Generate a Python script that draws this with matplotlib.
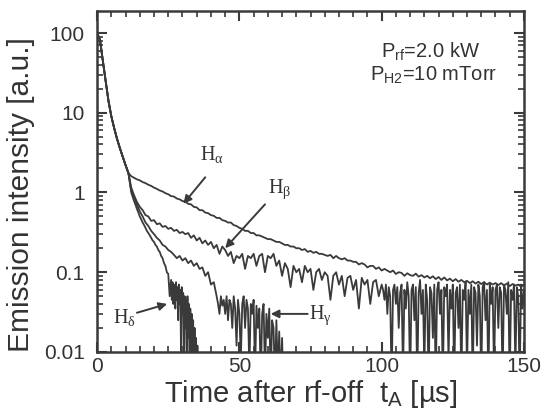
import numpy as np
import matplotlib
matplotlib.use("Agg")
import matplotlib.pyplot as plt
from matplotlib.ticker import MultipleLocator, LogLocator, FuncFormatter, NullFormatter

plt.rcParams['font.family'] = ['Liberation Sans', 'DejaVu Sans']
plt.rcParams['mathtext.fontset'] = 'custom'
plt.rcParams['mathtext.rm'] = 'Liberation Serif'
plt.rcParams['mathtext.it'] = 'Liberation Serif:italic'
plt.rcParams['mathtext.sf'] = 'Liberation Sans'

# common fast decay right after rf-off, t = 0..11 us (1 us steps)
early = [100, 82, 45, 25, 14, 9.0, 6.4, 4.7, 3.6, 2.8, 2.2, 1.75]

# H-alpha, t = 12..150 us
h_alpha = [1.6, 1.53, 1.46, 1.42, 1.35, 1.31, 1.25, 1.21, 1.15,
           1.11, 1.06, 1.03, 0.98, 0.95, 0.9, 0.89, 0.84, 0.82, 0.78,
           0.77, 0.72, 0.71, 0.66, 0.65, 0.6, 0.6, 0.56, 0.55, 0.52,
           0.51, 0.48, 0.48, 0.45, 0.44, 0.42, 0.42, 0.39, 0.38, 0.36,
           0.35, 0.33, 0.33, 0.31, 0.31, 0.29, 0.29, 0.28, 0.27, 0.26,
           0.26, 0.25, 0.24, 0.24, 0.23, 0.22, 0.22, 0.21, 0.21, 0.2,
           0.2, 0.19, 0.195, 0.18, 0.185, 0.175, 0.18, 0.17, 0.17, 0.165,
           0.16, 0.165, 0.15, 0.16, 0.15, 0.145, 0.15, 0.14, 0.14, 0.135,
           0.135, 0.125, 0.13, 0.125, 0.115, 0.12, 0.12, 0.11, 0.115, 0.105,
           0.11, 0.105, 0.1, 0.105, 0.095, 0.1, 0.098, 0.09, 0.097, 0.092,
           0.09, 0.096, 0.088, 0.092, 0.086, 0.09, 0.084, 0.089, 0.082, 0.087,
           0.08, 0.086, 0.079, 0.083, 0.077, 0.082, 0.076, 0.08, 0.075, 0.078,
           0.073, 0.077, 0.072, 0.076, 0.071, 0.075, 0.07, 0.074, 0.07, 0.073,
           0.069, 0.073, 0.068, 0.072, 0.067, 0.071, 0.068, 0.07, 0.066, 0.069]

# H-beta, t = 12..100 us (1 us steps)
h_beta = [1.15, 0.92, 0.76, 0.66, 0.6, 0.52, 0.5, 0.44, 0.45,
          0.4, 0.41, 0.37, 0.38, 0.35, 0.36, 0.33, 0.34, 0.31, 0.32,
          0.3, 0.31, 0.27, 0.29, 0.25, 0.27, 0.23, 0.25, 0.22, 0.24,
          0.2, 0.22, 0.17, 0.21, 0.19, 0.16, 0.18, 0.13, 0.16, 0.15,
          0.17, 0.11, 0.16, 0.15, 0.17, 0.12, 0.16, 0.17, 0.1, 0.16,
          0.15, 0.17, 0.12, 0.14, 0.09, 0.13, 0.11, 0.065, 0.12, 0.1,
          0.11, 0.075, 0.12, 0.1, 0.11, 0.06, 0.1, 0.11, 0.08, 0.1,
          0.09, 0.045, 0.09, 0.1, 0.07, 0.09, 0.05, 0.085, 0.09, 0.06,
          0.08, 0.035, 0.085, 0.07, 0.08, 0.04, 0.075, 0.08, 0.05, 0.07]
# H-beta, t = 100.5..150 us (0.5 us steps), noise floor
h_beta_tail = [0.06, 0.045, 0.07, 0.03, 0.065, 0.05, 0.004, 0.06, 0.07, 0.04,
               0.065, 0.02, 0.055, 0.07, 0.005, 0.06, 0.035, 0.075, 0.05, 0.004,
               0.06, 0.07, 0.025, 0.065, 0.004, 0.055, 0.08, 0.03, 0.06, 0.006,
               0.07, 0.045, 0.004, 0.065, 0.055, 0.015, 0.07, 0.004, 0.06, 0.075,
               0.03, 0.06, 0.004, 0.065, 0.05, 0.07, 0.008, 0.06, 0.035, 0.07,
               0.004, 0.055, 0.065, 0.02, 0.07, 0.004, 0.06, 0.045, 0.075, 0.006,
               0.06, 0.03, 0.07, 0.004, 0.065, 0.055, 0.012, 0.07, 0.05, 0.004,
               0.065, 0.075, 0.025, 0.06, 0.004, 0.07, 0.04, 0.065, 0.005, 0.06,
               0.07, 0.02, 0.065, 0.055, 0.004, 0.07, 0.06, 0.03, 0.075, 0.004,
               0.06, 0.045, 0.07, 0.006, 0.065, 0.05, 0.004, 0.07, 0.035, 0.06]

# H-gamma, t = 12..42 us (1 us steps)
h_gamma = [1.05, 0.85, 0.7, 0.58, 0.5, 0.42, 0.38, 0.33, 0.3,
           0.27, 0.25, 0.22, 0.21, 0.19, 0.18, 0.165, 0.15, 0.16, 0.14,
           0.15, 0.13, 0.14, 0.12, 0.13, 0.11, 0.115, 0.09, 0.1, 0.07,
           0.075, 0.05]
# H-gamma, t = 42.5..66 us (0.5 us steps)
h_gamma_tail = [0.04, 0.03, 0.05, 0.038, 0.045, 0.03, 0.05, 0.025, 0.045, 0.04,
                0.02, 0.05, 0.035, 0.012, 0.045, 0.03, 0.008, 0.04, 0.05, 0.02,
                0.045, 0.035, 0.006, 0.04, 0.03, 0.045, 0.005, 0.038, 0.02, 0.035,
                0.004, 0.03, 0.04, 0.005, 0.03, 0.015, 0.035, 0.004, 0.025, 0.02,
                0.004, 0.025, 0.005, 0.018, 0.004, 0.015, 0.003, 0.002]

# H-delta, t = 12..26 us (0.5 us steps)
h_delta = [1.0, 0.88, 0.78, 0.7, 0.62, 0.56, 0.5, 0.46, 0.42, 0.39,
           0.36, 0.33, 0.31, 0.29, 0.27, 0.25, 0.24, 0.22, 0.21, 0.19,
           0.18, 0.16, 0.15, 0.13, 0.12, 0.1, 0.095, 0.05, 0.08]
# H-delta, t = 26.25..36 us (0.25 us steps)
h_delta_tail = [0.045, 0.075, 0.04, 0.07, 0.05, 0.035, 0.075, 0.045, 0.065, 0.025,
                0.07, 0.04, 0.06, 0.009, 0.065, 0.03, 0.055, 0.006, 0.05, 0.02,
                0.045, 0.005, 0.05, 0.015, 0.04, 0.004, 0.035, 0.01, 0.03, 0.004,
                0.025, 0.005, 0.02, 0.004, 0.015, 0.003, 0.012, 0.003, 0.008, 0.002]

t_early = np.arange(0, 12)
t_a = np.arange(12, 151)
t_b = np.concatenate([np.arange(12, 101), 100.5 + 0.5 * np.arange(len(h_beta_tail))])
t_g = np.concatenate([np.arange(12, 43), 42.5 + 0.5 * np.arange(len(h_gamma_tail))])
t_d = np.concatenate([12 + 0.5 * np.arange(len(h_delta)), 26.25 + 0.25 * np.arange(len(h_delta_tail))])

col = '#3a3a3a'
txt = '#333333'
fig = plt.figure(figsize=(5.55, 4.16), dpi=100)
ax = fig.add_axes([0.175, 0.154, 0.769, 0.82])

series = [(t_b, h_beta + h_beta_tail), (t_g, h_gamma + h_gamma_tail),
          (t_d, h_delta + h_delta_tail), (t_a, h_alpha)]
for t, v in series:
    tt = np.concatenate([t_early, t])
    vv = np.concatenate([early, v])
    ax.plot(tt, vv, color=col, lw=1.3)

ax.set_yscale('log')
ax.set_xlim(0, 150)
ax.set_ylim(0.01, 190)
ax.xaxis.set_major_locator(MultipleLocator(50))
ax.xaxis.set_minor_locator(MultipleLocator(5))
ax.yaxis.set_major_locator(LogLocator(base=10, numticks=10))
ax.yaxis.set_minor_locator(LogLocator(base=10, subs=np.arange(2, 10), numticks=10))
ax.yaxis.set_major_formatter(FuncFormatter(lambda v, p: '%g' % v))
ax.yaxis.set_minor_formatter(NullFormatter())
ax.tick_params(which='both', direction='in', top=True, right=True, color=col, labelsize=15, labelcolor=txt)
ax.tick_params(which='major', length=7, width=1.5)
ax.tick_params(which='minor', length=4, width=1.2)
ax.tick_params(axis='y', which='major', pad=9)
ax.tick_params(axis='x', which='major', pad=4)
for s in ax.spines.values():
    s.set_linewidth(1.8)
    s.set_color(col)

ax.set_xlabel(r'Time after rf-off  t$_\mathsf{A}$ [µs]', fontsize=21, color=txt, labelpad=1)
ax.set_ylabel('Emission intensity [a.u.]', fontsize=21.5, color=txt)
ax.yaxis.set_label_coords(-0.145, 0.46)

ax.text(0.897, 0.915, r'P$_\mathsf{rf}$=2.0 kW', transform=ax.transAxes, ha='right', va='top', fontsize=14.5, color=txt)
ax.text(0.937, 0.845, r'P$_\mathsf{H2}$=10 mTorr', transform=ax.transAxes, ha='right', va='top', fontsize=14.5, color=txt)

akw = dict(arrowstyle='-|>', color=col, lw=1.4, mutation_scale=12, shrinkA=0, shrinkB=0)
hkw = dict(fontsize=14.5, color=txt, family='Liberation Serif')
ax.annotate('', xy=(30.3, 0.72), xytext=(38, 1.55), arrowprops=akw)
ax.text(40.5, 3.0, r'H$_\mathrm{\alpha}$', ha='center', va='center', **hkw)
ax.annotate('', xy=(45, 0.2), xytext=(59, 0.71), arrowprops=akw)
ax.text(64, 1.1, r'H$_\mathrm{\beta}$', ha='center', va='center', **hkw)
ax.annotate('', xy=(61, 0.03), xytext=(74, 0.03), arrowprops=akw)
ax.text(74.5, 0.029, r'H$_\mathrm{\gamma}$', ha='left', va='center', **hkw)
ax.annotate('', xy=(24.6, 0.04), xytext=(14, 0.031), arrowprops=akw)
ax.text(13.5, 0.027, r'H$_\mathrm{\delta}$', ha='right', va='center', **hkw)

fig.savefig('out.png', dpi=100, facecolor='white')
